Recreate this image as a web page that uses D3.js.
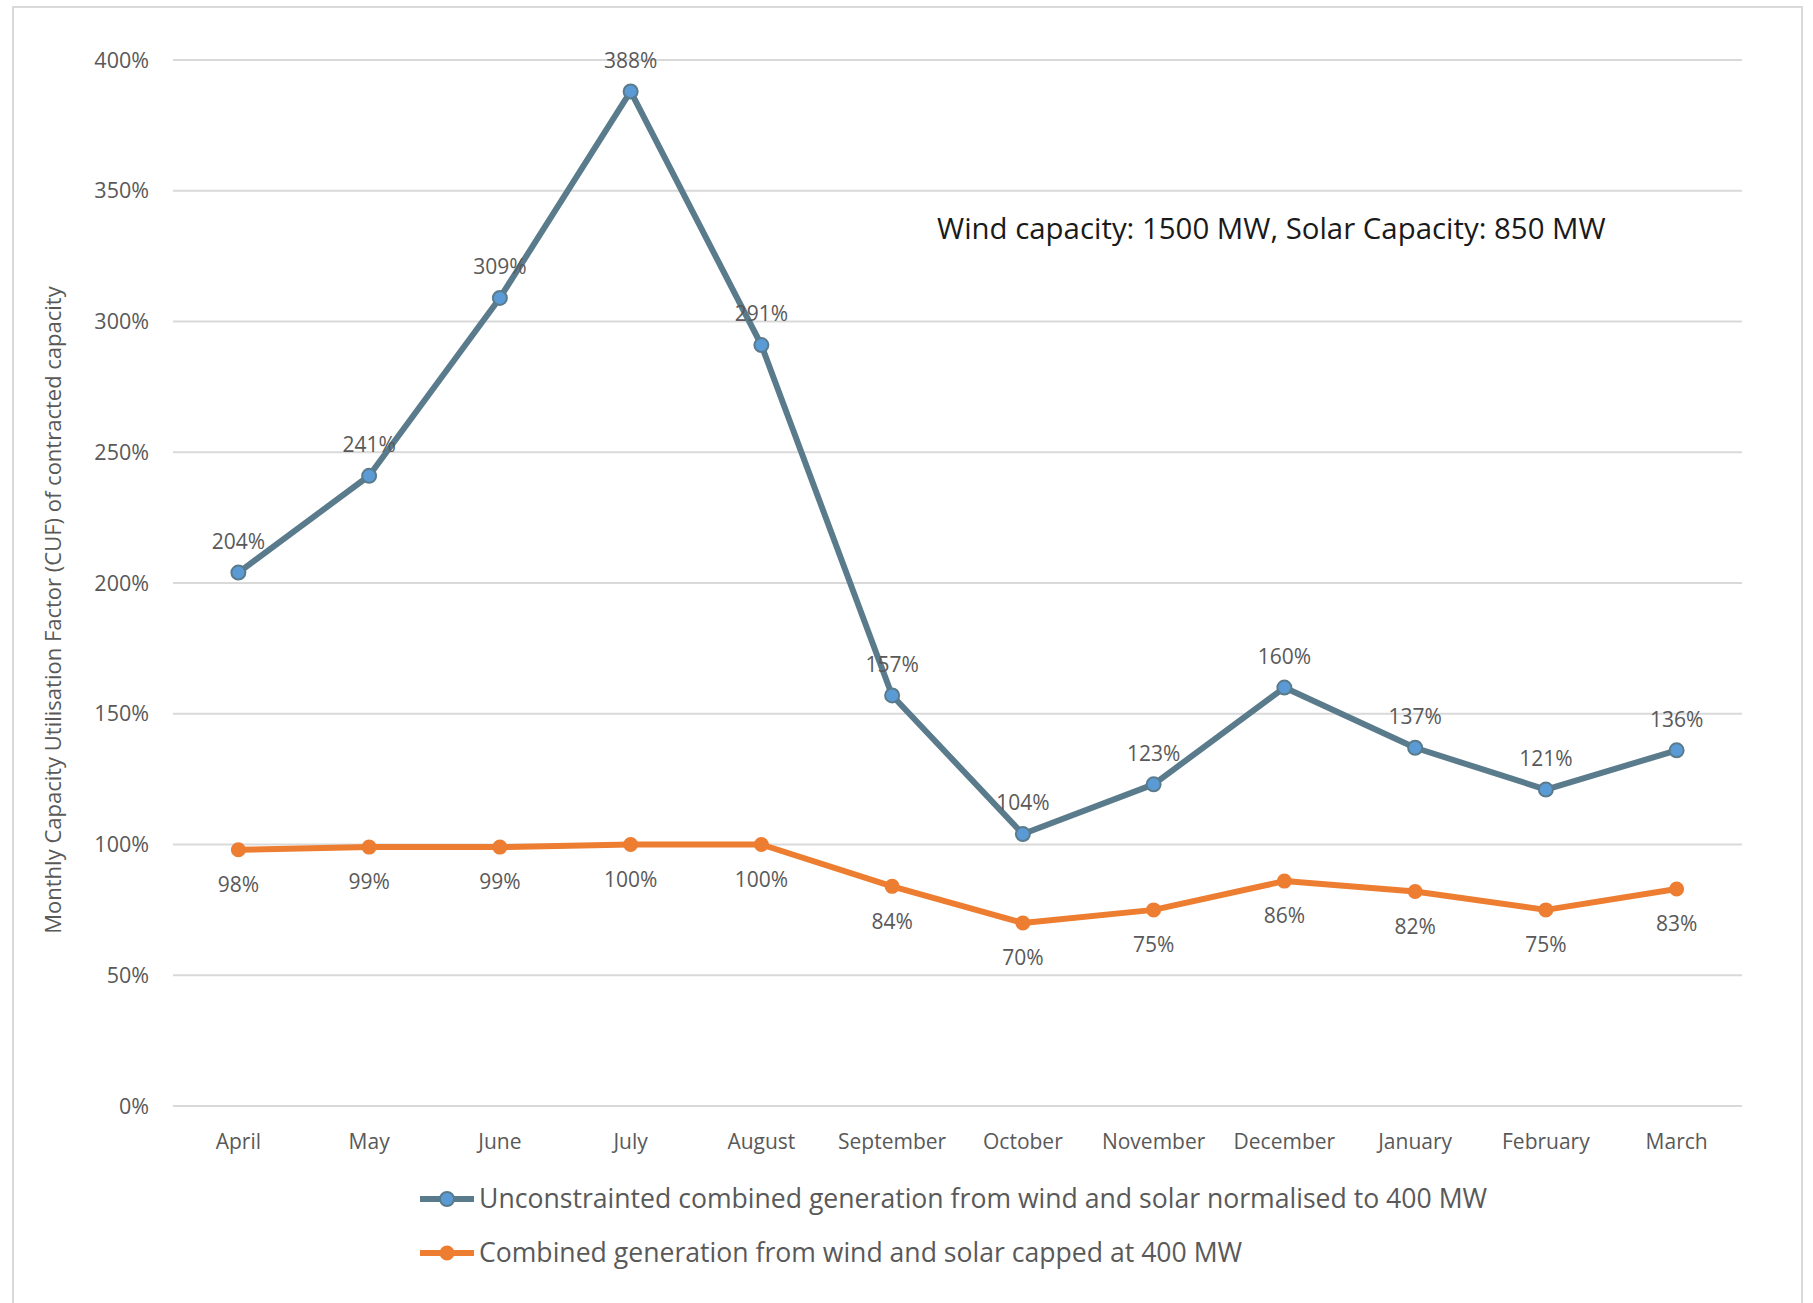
<!DOCTYPE html>
<html>
<head>
<meta charset="utf-8">
<script src="https://cdn.jsdelivr.net/npm/d3@7"></script>
<style>
  html, body { margin: 0; padding: 0; background: #fff; }
  svg text { font-family: "Open Sans", "Noto Sans", sans-serif; fill: #595959; }
</style>
</head>
<body>
<svg id="chart" width="1813" height="1303"></svg>
<script>
// Data
const months = ["April", "May", "June", "July", "August", "September",
  "October", "November", "December", "January", "February", "March"];
const unconstrained = [204, 241, 309, 388, 291, 157, 104, 123, 160, 137, 121, 136];
const capped = [98, 99, 99, 100, 100, 84, 70, 75, 86, 82, 75, 83];
const yTicks = [0, 50, 100, 150, 200, 250, 300, 350, 400];
const legendLabels = [
  "Unconstrainted combined generation from wind and solar normalised to 400 MW",
  "Combined generation from wind and solar capped at 400 MW",
];
const note = "Wind capacity: 1500 MW, Solar Capacity: 850 MW";
const yTitle = "Monthly Capacity Utilisation Factor (CUF) of contracted capacity";

const svg = d3.select("#chart");

// frame
svg.append("rect")
  .attr("x", 13).attr("y", 7)
  .attr("width", 1789).attr("height", 1320)
  .attr("fill", "none")
  .attr("stroke", "#d9d9d9")
  .attr("stroke-width", 2);

const x = d3.scalePoint().domain(months).range([173, 1742]).padding(0.5);
const y = d3.scaleLinear().domain([0, 400]).range([1106, 60]);

// gridlines
svg.append("g")
  .selectAll("line")
  .data(yTicks)
  .join("line")
  .attr("x1", 173).attr("x2", 1742)
  .attr("y1", (d) => y(d)).attr("y2", (d) => y(d))
  .attr("stroke", "#d9d9d9")
  .attr("stroke-width", 2);

// y tick labels
svg.append("g")
  .selectAll("text")
  .data(yTicks)
  .join("text")
  .attr("x", 149)
  .attr("y", (d) => y(d))
  .attr("dy", "0.35em")
  .attr("text-anchor", "end")
  .style("font-size", "21.5px")
  .text((d) => d + "%");

// x labels
svg.append("g")
  .selectAll("text")
  .data(months)
  .join("text")
  .attr("x", (d) => x(d))
  .attr("y", 1142)
  .attr("dy", "0.35em")
  .attr("text-anchor", "middle")
  .style("font-size", "21px")
  .text((d) => d);

// y axis title
svg.append("text")
  .attr("transform", "translate(53,610) rotate(-90)")
  .attr("text-anchor", "middle")
  .attr("dy", "0.35em")
  .style("font-size", "22px")
  .text(yTitle);

const series = [
  { values: unconstrained, line: "#5a7b8c", fill: "#5b9bd5", r: 7, off: -31 },
  { values: capped, line: "#ed7d31", fill: "#ed7d31", r: 6.5, off: 35 },
];

const line = d3.line()
  .x((d, i) => x(months[i]))
  .y((d) => y(d));

series.forEach((s) => {
  const g = svg.append("g");
  g.append("path")
    .datum(s.values)
    .attr("d", line)
    .attr("fill", "none")
    .attr("stroke", s.line)
    .attr("stroke-width", 6)
    .attr("stroke-linejoin", "round");

  g.selectAll("circle")
    .data(s.values)
    .join("circle")
    .attr("cx", (d, i) => x(months[i]))
    .attr("cy", (d) => y(d))
    .attr("r", s.r)
    .attr("fill", s.fill)
    .attr("stroke", s.line)
    .attr("stroke-width", 2);

  g.selectAll("text")
    .data(s.values)
    .join("text")
    .attr("x", (d, i) => x(months[i]))
    .attr("y", (d) => y(d) + s.off)
    .attr("dy", "0.35em")
    .attr("text-anchor", "middle")
    .style("font-size", "21px")
    .text((d) => d + "%");
});

// annotation
svg.append("text")
  .attr("x", 937)
  .attr("y", 229)
  .attr("dy", "0.35em")
  .style("font-size", "29.4px")
  .style("fill", "#1a1a1a")
  .text(note);

// legend
const legend = svg.append("g")
  .selectAll("g")
  .data(series)
  .join("g")
  .attr("transform", (d, i) => `translate(0,${1199 + i * 54})`);

legend.append("line")
  .attr("x1", 420).attr("x2", 474)
  .attr("stroke", (d) => d.line)
  .attr("stroke-width", 6);

legend.append("circle")
  .attr("cx", 447)
  .attr("r", (d) => d.r)
  .attr("fill", (d) => d.fill)
  .attr("stroke", (d) => d.line)
  .attr("stroke-width", 2);

legend.append("text")
  .attr("x", 479)
  .attr("dy", "0.35em")
  .style("font-size", "26.6px")
  .text((d, i) => legendLabels[i]);
</script>
</body>
</html>
